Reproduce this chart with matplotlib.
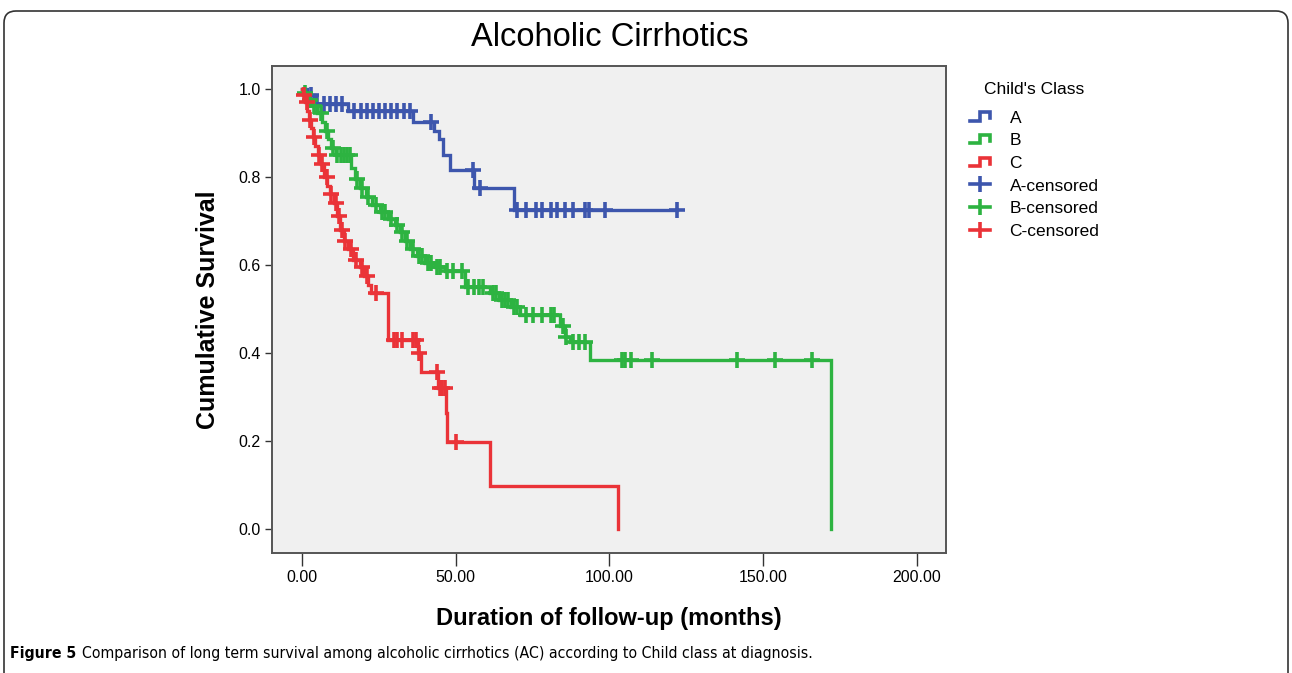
import matplotlib.pyplot as plt
import numpy as np
from matplotlib.lines import Line2D
from matplotlib.legend_handler import HandlerBase
from matplotlib.patches import FancyBboxPatch

# Données (temps en mois, survie après chaque décès)
a_time = [0, 1.5, 4, 15, 36, 43, 44.5, 46, 48, 56, 69, 122]
a_surv = [1.0, 0.985, 0.965, 0.95, 0.925, 0.905, 0.885, 0.85, 0.815, 0.775, 0.725, 0.725]
a_cens = [3, 5, 7, 9, 11, 13, 17, 19, 21, 23, 25, 27, 29, 31, 33, 35, 42, 55.5,
          58, 70, 73, 76, 78, 81, 83, 85.5, 88, 92, 93.5, 98.5, 122]

b_time = [0, 0.3, 2, 3.5, 5, 6.5, 7.5, 8.5, 9.5, 11, 16, 17.2, 18.9, 20.8, 22.8,
          25.4, 28, 30.2, 31.9, 33.5, 35.1, 37.4, 40, 43.3, 46.5, 53, 61, 64, 68,
          71, 84, 85.5, 87, 93.6, 172]
b_surv = [1.0, 0.99, 0.975, 0.96, 0.945, 0.925, 0.905, 0.885, 0.865, 0.85, 0.82,
          0.795, 0.775, 0.755, 0.735, 0.72, 0.705, 0.69, 0.675, 0.655, 0.635, 0.62,
          0.605, 0.595, 0.585, 0.55, 0.536, 0.52, 0.505, 0.486, 0.46, 0.436, 0.425,
          0.384, 0.0]
b_cens = [1, 2.5, 4, 6, 8, 10, 11.5, 12.5, 13.5, 14.5, 15.5, 17.8, 19.5, 21.5,
          24, 26, 27, 29, 31, 32.5, 34, 36, 38, 39, 41, 42, 44, 45, 47, 49, 52,
          54, 56, 57.5, 59, 62, 63, 65, 66, 67, 69, 70, 73, 75, 78, 81, 82, 85,
          86, 88, 90, 92, 104, 105, 107, 114, 141.5, 154, 166]

c_time = [0, 0.3, 1.0, 1.6, 2.3, 2.9, 3.6, 4.2, 5.2, 6.2, 7.2, 8.1, 9.1, 10.4,
          11.4, 12.4, 13.7, 15, 16.6, 18.9, 20.2, 21.5, 22.4, 28, 37.7, 38.7,
          44.2, 46.8, 47.2, 61.1, 102.8]
c_surv = [1.0, 0.985, 0.97, 0.95, 0.93, 0.91, 0.89, 0.87, 0.85, 0.83, 0.80, 0.78,
          0.76, 0.74, 0.71, 0.68, 0.655, 0.635, 0.61, 0.595, 0.575, 0.555, 0.535,
          0.43, 0.40, 0.357, 0.32, 0.264, 0.198, 0.098, 0.0]
c_cens = [0.5, 1.5, 2.5, 4, 5.5, 6.5, 8, 9.5, 11, 12, 13, 14, 16, 17.5, 19.5,
          21, 24, 30, 31, 32.5, 36, 37, 38, 44, 45, 45.5, 46.5, 50]

groups = ["A", "B", "C"]
colors = ["#3D56AD", "#2DB341", "#EA3338"]
x_ticks = [0, 50, 100, 150, 200]
y_ticks = [0.0, 0.2, 0.4, 0.6, 0.8, 1.0]

plt.rcParams['font.family'] = ['Liberation Sans', 'DejaVu Sans']


# Icône en escalier pour la légende
class StepHandler(HandlerBase):
    def create_artists(self, legend, orig_handle, xdescent, ydescent,
                       width, height, fontsize, trans):
        x0 = -xdescent
        y0 = -ydescent
        xs = [x0, x0 + 0.5 * width, x0 + 0.5 * width, x0 + width, x0 + width]
        ys = [y0 + 0.15 * height, y0 + 0.15 * height, y0 + 0.85 * height,
              y0 + 0.85 * height, y0 + 0.35 * height]
        line = Line2D(xs, ys, color=orig_handle.get_color(),
                      lw=orig_handle.get_linewidth(), solid_joinstyle='miter')
        line.set_transform(trans)
        return [line]


fig = plt.figure(figsize=(12.92, 6.73), dpi=100)
ax = fig.add_axes([272 / 1292, 1 - 553 / 673, 674 / 1292, 487 / 673])
ax.set_facecolor("#F0F0F0")

# Cadre arrondi autour de la figure
frame = FancyBboxPatch(
    (0.16, -0.5), 12.6, 7.0,
    boxstyle="round,pad=0.12",
    transform=fig.dpi_scale_trans,
    fill=False,
    edgecolor="#333333",
    linewidth=1.2
)
fig.patches.append(frame)

series = [
    (a_time, a_surv, a_cens),
    (b_time, b_surv, b_cens),
    (c_time, c_surv, c_cens),
]
for (t, s, cens), col in zip(series, colors):
    t = np.array(t)
    s = np.array(s)
    ax.step(t, s, where='post', color=col, lw=2.4, solid_joinstyle='miter')
    cens = np.array(cens)
    idx = np.searchsorted(t, cens, side='right') - 1
    ax.plot(cens, s[idx], ls='none', marker='+', color=col,
            markersize=11, markeredgewidth=2.6)

ax.set_xlim(-9.8, 209.5)
ax.set_ylim(-0.055, 1.052)
ax.set_xticks(x_ticks)
ax.set_xticklabels([f"{v:.2f}" for v in x_ticks])
ax.set_yticks(y_ticks)
ax.set_yticklabels([f"{v:.1f}" for v in y_ticks])
ax.tick_params(axis='both', direction='out', width=1, color="#333333",
               labelsize=11.5)
ax.tick_params(axis='x', length=9, pad=3)
ax.tick_params(axis='y', length=5, pad=3)
for sp in ax.spines.values():
    sp.set_color("#555555")
    sp.set_linewidth(1.4)

ax.set_xlabel("Duration of follow-up (months)", fontsize=17, fontweight='bold',
              labelpad=16)
ax.set_ylabel("Cumulative Survival", fontsize=18, fontweight='bold', labelpad=13)
fig.text(610 / 1292, 1 - 38 / 673, "Alcoholic Cirrhotics", fontsize=23.5,
         ha='center', va='center')

# Légende
handles = []
labels = []
for g, col in zip(groups, colors):
    handles.append(Line2D([0], [0], color=col, lw=2.6))
    labels.append(g)
for g, col in zip(groups, colors):
    handles.append(Line2D([0], [0], color=col, lw=2.6, marker='|',
                          markersize=12, markeredgewidth=2.6))
    labels.append(g + "-censored")
handler_map = {h: StepHandler() for h in handles[:3]}
leg = ax.legend(handles, labels, handler_map=handler_map, title="Child's Class",
                loc='upper left', bbox_to_anchor=(954 / 1292, 1 - 66 / 673),
                bbox_transform=fig.transFigure, frameon=False, fontsize=12.5,
                title_fontsize=12.5, handlelength=1.2, handletextpad=1.1,
                labelspacing=0.43)
leg._legend_box.sep = 10

# Légende de la figure
cond = dict(family='DejaVu Sans', fontstretch='condensed')
cap = fig.text(10 / 1292, 1 - 658 / 673, "Figure 5", fontsize=11.3,
               fontweight='bold', ha='left', va='baseline', **cond)
ax.annotate("Comparison of long term survival among alcoholic cirrhotics (AC) "
            "according to Child class at diagnosis.",
            xy=(1, 0), xycoords=cap, xytext=(4, 0), textcoords='offset points',
            fontsize=11.3, ha='left', va='bottom', annotation_clip=False, **cond)

plt.savefig("out.png", dpi=100)
plt.close()
